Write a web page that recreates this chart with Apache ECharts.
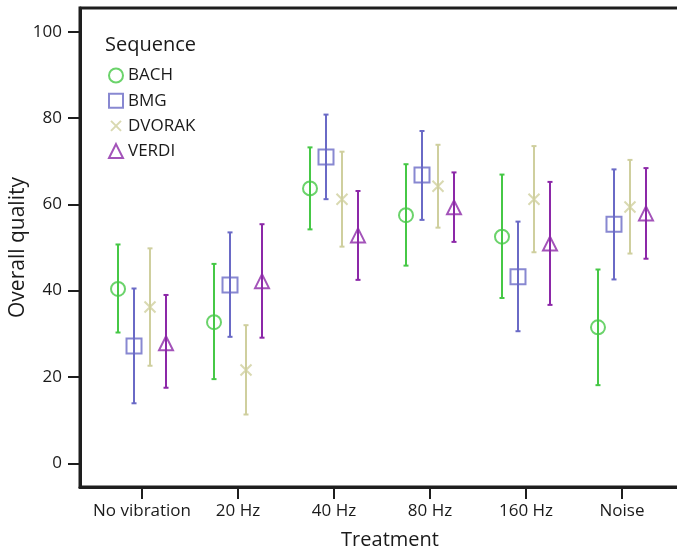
<!DOCTYPE html>
<html>
<head>
<meta charset="utf-8">
<script src="https://cdn.jsdelivr.net/npm/echarts@6/dist/echarts.min.js"></script>
<style>
  html, body { margin: 0; padding: 0; background: #fff; }
  #chart { width: 677px; height: 552px; }
</style>
</head>
<body>
<div id="chart"></div>
<script>
// Treatment groups along the x axis
const treatments = ['No vibration', '20 Hz', '40 Hz', '80 Hz', '160 Hz', 'Noise'];
const yTicks = [0, 20, 40, 60, 80, 100];

// Mean overall quality per treatment, one array per sequence
const bachMean   = [40.4, 32.7, 63.7, 57.5, 52.5, 31.5];
const bachLow    = [30.3, 19.5, 54.2, 45.8, 38.3, 18.1];
const bachHigh   = [50.7, 46.2, 73.2, 69.3, 66.9, 44.9];

const bmgMean    = [27.2, 41.3, 71.0, 66.8, 43.2, 55.4];
const bmgLow     = [13.9, 29.3, 61.2, 56.4, 30.6, 42.6];
const bmgHigh    = [40.5, 53.5, 80.8, 77.0, 56.0, 68.1];

const dvorakMean = [36.2, 21.6, 61.2, 64.2, 61.2, 59.4];
const dvorakLow  = [22.6, 11.3, 50.2, 54.6, 48.9, 48.6];
const dvorakHigh = [49.8, 32.0, 72.2, 73.8, 73.5, 70.3];

const verdiMean  = [27.8, 42.2, 52.8, 59.3, 50.9, 57.9];
const verdiLow   = [17.5, 29.1, 42.5, 51.3, 36.7, 47.4];
const verdiHigh  = [39.0, 55.4, 63.1, 67.4, 65.2, 68.4];

const CROSS = 'path://M0,0L10,10M10,0L0,10';
const CROSS_PADDED = 'path://M-2,-2M0,0L10,10M10,0L0,10M12,12';

const sequences = [
  { name: 'BACH',   mean: bachMean,   low: bachLow,   high: bachHigh,   color: '#46c846', symbol: 'circle',   legendIcon: 'circle',     size: 14, shift: -0.25 },
  { name: 'BMG',    mean: bmgMean,    low: bmgLow,    high: bmgHigh,    color: '#6a6ac6', symbol: 'rect',     legendIcon: 'rect',       size: 15, shift: -0.0833 },
  { name: 'DVORAK', mean: dvorakMean, low: dvorakLow, high: dvorakHigh, color: '#cfcf9e', symbol: CROSS,      legendIcon: CROSS_PADDED, size: 11, shift: 0.0833 },
  { name: 'VERDI',  mean: verdiMean,  low: verdiLow,  high: verdiHigh,  color: '#8c28a8', symbol: 'triangle', legendIcon: 'triangle',   size: 14, shift: 0.25 }
];

const FONT = 'Open Sans';
const TEXT = '#1a1a1a';
const AXIS = '#1e1e1e';

const series = [];
// hollow markers at the means (listed first so the legend takes their symbols)
sequences.forEach(function (s) {
  series.push({
    type: 'scatter',
    name: s.name,
    z: 3,
    symbol: s.symbol,
    symbolSize: s.size,
    itemStyle: { color: 'rgba(255,255,255,0)', borderColor: s.color, borderWidth: 2 },
    data: treatments.map(function (t, i) { return [i + s.shift, s.mean[i]]; })
  });
});
// error bars: vertical whisker with small caps
sequences.forEach(function (s) {
  series.push({
    type: 'custom',
    name: s.name,
    z: 2,
    silent: true,
    data: treatments.map(function (t, i) { return [i + s.shift, s.low[i], s.high[i]]; }),
    renderItem: function (params, api) {
      const x = api.value(0);
      const lo = api.coord([x, api.value(1)]);
      const hi = api.coord([x, api.value(2)]);
      const cap = 2.5;
      const style = { stroke: s.color, lineWidth: 2, fill: null };
      return {
        type: 'group',
        children: [
          { type: 'line', shape: { x1: lo[0], y1: lo[1], x2: hi[0], y2: hi[1] }, style: style },
          { type: 'line', shape: { x1: lo[0] - cap, y1: lo[1], x2: lo[0] + cap, y2: lo[1] }, style: style },
          { type: 'line', shape: { x1: hi[0] - cap, y1: hi[1], x2: hi[0] + cap, y2: hi[1] }, style: style }
        ]
      };
    }
  });
});

const chart = echarts.init(document.getElementById('chart'), null, { renderer: 'canvas' });
chart.setOption({
  animation: false,
  backgroundColor: '#fff',
  title: {
    text: 'Sequence',
    left: 100,
    top: 30,
    textStyle: { fontFamily: FONT, fontSize: 20, fontWeight: 'normal', color: TEXT }
  },
  legend: {
    orient: 'vertical',
    left: 103,
    top: 62,
    itemWidth: 14,
    itemHeight: 14,
    itemGap: 8.2,
    data: sequences.map(function (s) { return { name: s.name, icon: s.legendIcon }; }),
    textStyle: { fontFamily: FONT, fontSize: 17, color: TEXT, padding: [0, 0, 0, 0] }
  },
  grid: {
    left: 80, top: 8, right: -7, bottom: 65,
    outerBoundsMode: 'none',
    containLabel: false,
    show: true, borderColor: AXIS, borderWidth: 3, backgroundColor: 'transparent'
  },
  xAxis: {
    type: 'value',
    min: -0.646,
    max: 5.646,
    splitLine: { show: false },
    axisLine: { onZero: false, lineStyle: { color: AXIS, width: 3 } },
    axisTick: { show: true, length: 12, lineStyle: { color: AXIS, width: 2 }, customValues: [0, 1, 2, 3, 4, 5] },
    axisLabel: {
      customValues: [0, 1, 2, 3, 4, 5],
      formatter: function (v) { return treatments[Math.round(v)]; },
      fontFamily: FONT, fontSize: 17, color: TEXT, margin: 16
    },
    name: 'Treatment',
    nameLocation: 'middle',
    nameGap: 43,
    nameMoveOverlap: false,
    nameTextStyle: { fontFamily: FONT, fontSize: 20, color: TEXT, padding: [0, 0, 0, 16] }
  },
  yAxis: {
    type: 'value',
    min: -5.5,
    max: 105.5,
    splitLine: { show: false },
    axisLine: { show: true, onZero: false, lineStyle: { color: AXIS, width: 3 } },
    axisTick: { show: true, length: 12, lineStyle: { color: AXIS, width: 2 }, customValues: yTicks },
    axisLabel: {
      customValues: yTicks,
      fontFamily: FONT, fontSize: 17, color: TEXT, margin: 18
    },
    name: 'Overall quality',
    nameLocation: 'middle',
    nameGap: 51,
    nameMoveOverlap: false,
    nameTextStyle: { fontFamily: FONT, fontSize: 21, color: TEXT }
  },
  series: series
});
</script>
</body>
</html>
